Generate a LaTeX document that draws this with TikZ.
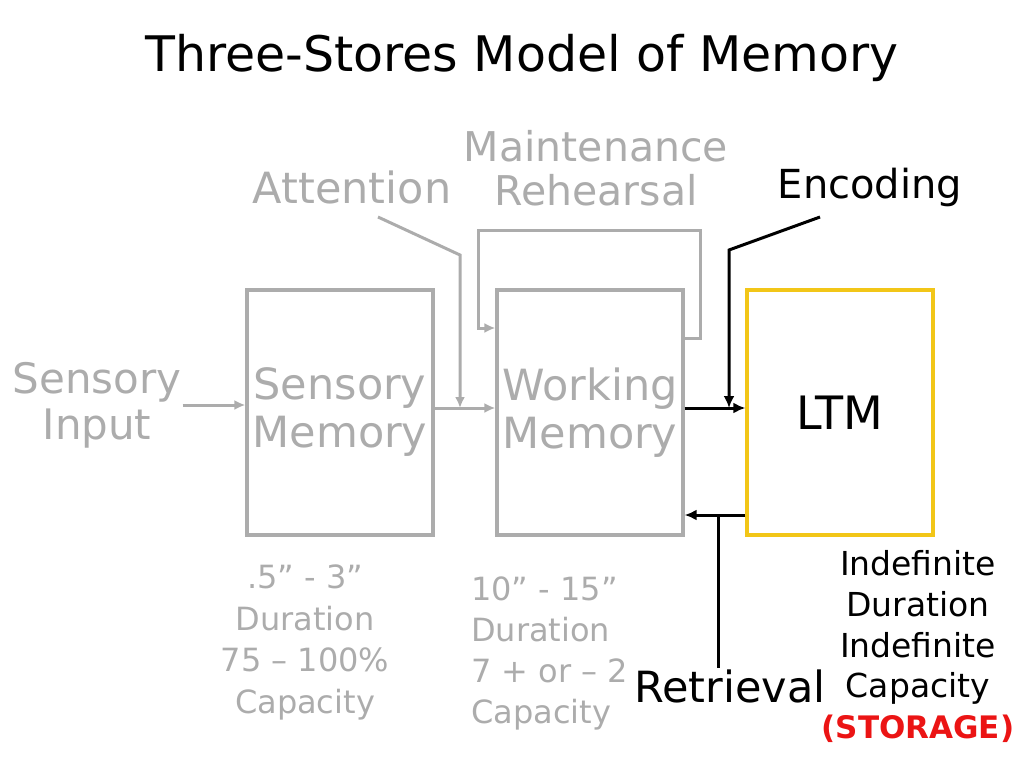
\documentclass[tikz,border=0pt]{standalone}
\usepackage{fontspec}
\setmainfont{DejaVu Sans}
\usepackage{tikz}
\usetikzlibrary{arrows.meta}
\definecolor{fade}{RGB}{172,172,172}
\definecolor{ltmgold}{RGB}{242,198,24}
\definecolor{storagered}{RGB}{235,20,20}
\tikzset{>=Latex}
\tikzset{store/.style = {shape=rectangle,draw=fade,line width=3.2pt,minimum width=186pt,minimum height=245pt,
                         text=fade,align=center,font=\fontsize{43}{48}\selectfont}}
\tikzset{ltmstore/.style = {store,draw=ltmgold,text=black,font=\fontsize{46}{52}\selectfont}}
\tikzset{fadetext/.style = {text=fade,align=center,inner sep=1pt}}
\tikzset{fadearrow/.style = {draw=fade,line width=3pt,-{Latex[length=11pt,width=10pt]}}}
\tikzset{darkarrow/.style = {draw=black,line width=3pt,-{Latex[length=12pt,width=11pt]}}}

\begin{document}
\begin{tikzpicture}[x=1pt,y=-1pt]
                \useasboundingbox (0,0) rectangle (1024,768);
                \node[font=\fontsize{49}{56}\selectfont] (title) at (522,58) {Three-Stores Model of Memory};
                \node[store] (SM) at (340,412.5) {Sensory\\Memory};
                \node[store] (WM) at (590,412.5) {Working\\Memory};
                \node[ltmstore] (LTM) at (840,412.5) {LTM};
                \node[fadetext,font=\fontsize{42}{46}\selectfont] (SI) at (97,405) {Sensory\\Input};
                \node[fadetext,font=\fontsize{43}{46}\selectfont] (att) at (352,187) {Attention};
                \node[fadetext,font=\fontsize{41}{44}\selectfont] (MR) at (596,168) {Maintenance\\Rehearsal};
                \node[font=\fontsize{40}{44}\selectfont,inner sep=1pt] (enc) at (870,187) {Encoding};
                \node[font=\fontsize{43}{46}\selectfont,inner sep=1pt] (retr) at (730,686) {Retrieval};
                \node[fadetext,font=\fontsize{32}{41.7}\selectfont] (SMstats) at (305,642.5) {.5'' - 3''\\Duration\\75 -- 100\%\\Capacity};
                \node[fadetext,align=left,anchor=west,font=\fontsize{32}{41}\selectfont] (WMstats) at (470,653.5) {10'' - 15''\\Duration\\7 + or -- 2\\Capacity};
                \node[align=center,font=\fontsize{33}{40.8}\selectfont] (LTMstats) at (918,646.5) {Indefinite\\Duration\\Indefinite\\Capacity\\\textcolor{storagered}{\bfseries\fontsize{31}{40.8}\selectfont (STORAGE)}};
                \coordinate (attfoot) at (378,217);
                \coordinate (attbend) at (460,255);
                \coordinate (join) at (460,408);
                \coordinate (rhtop) at (700,230);
                \coordinate (rhleft) at (478,230);
                \coordinate (encfoot) at (820,217);
                \coordinate (encbend) at (729,250);
                \coordinate (encjoin) at (729,408);
                \coordinate (retjoin) at (718,515);
                \draw[fadearrow] (SI.east) -- (SI.east -| SM.west);
                \draw[fadearrow] (SM.east |- join) -- (WM.west |- join);
                \draw[fadearrow] (attfoot) -- (attbend) -- (join);
                \draw[fadearrow] ([yshift=74.5pt]WM.east) -| (rhtop) -- (rhleft) |- ([yshift=84.5pt]WM.west);
                \draw[darkarrow] ([yshift=4.5pt]WM.east) -- ([yshift=4.5pt]LTM.west);
                \draw[darkarrow] (encfoot) -- (encbend) -- (encjoin);
                \draw[darkarrow] ([yshift=-102.5pt]LTM.west) -- ([yshift=-102.5pt]WM.east);
                \draw[line width=3pt] (retjoin) -- (retjoin |- retr.north);
            \end{tikzpicture}
\end{document}
